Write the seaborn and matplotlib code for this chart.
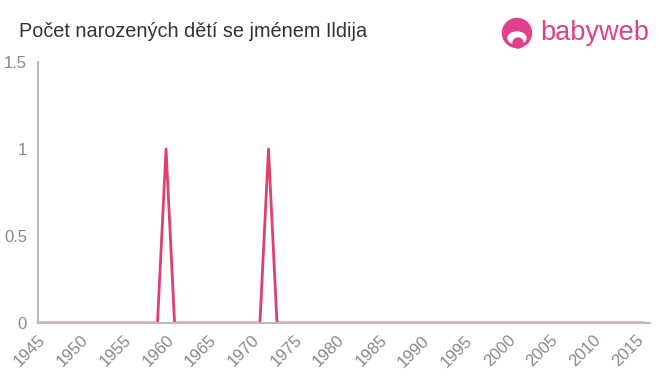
import matplotlib
matplotlib.use("Agg")
import matplotlib.pyplot as plt
import seaborn as sns
import pandas as pd
from matplotlib.patches import Circle, Ellipse

years = list(range(1945, 2017))
peak_years = [1960, 1972]
counts = [1 if y in peak_years else 0 for y in years]
xticks = list(range(1945, 2016, 5))
yticks = [0, 0.5, 1, 1.5]
ytick_labels = ["0", "0.5", "1", "1.5"]

df = pd.DataFrame({"year": years, "count": counts})

sns.set_style("white")
plt.rcParams['font.family'] = ['Liberation Sans', 'DejaVu Sans']

fig = plt.figure(figsize=(6.6, 3.75), dpi=100)
ax = fig.add_axes([38/660, (375-323)/375, (650-38)/660, (323-62)/375])

sns.lineplot(data=df, x="year", y="count", ax=ax, color="#e0406e", linewidth=2)

ax.set_xlim(1945, 2016.7)
ax.set_ylim(0, 1.5)
ax.set_xticks(xticks)
ax.set_xticklabels([str(x) for x in xticks], rotation=45, ha="right", rotation_mode="anchor")
ax.set_yticks(yticks)
ax.set_yticklabels(ytick_labels)
ax.set_xlabel("")
ax.set_ylabel("")
for s in ["top", "right"]:
    ax.spines[s].set_visible(False)
for s in ["left", "bottom"]:
    ax.spines[s].set_color("#bbbbbb")
    ax.spines[s].set_linewidth(1.5)
ax.tick_params(axis="both", colors="#bbbbbb", labelcolor="#888888", labelsize=12, length=5, width=1.5, direction="out")
ax.tick_params(axis="x", pad=2)
ax.tick_params(axis="y", pad=3)

fig.text(19/660, 1 - 37/375, "Počet narozených dětí se jménem Ildija", fontsize=14.3, color="#333333", va="baseline", ha="left")

# logo
logo_color = "#e0418a"
fig.patches.append(Circle((517, 375 - 33), 14.5, transform=None, color=logo_color))
fig.patches.append(Ellipse((517, 375 - 38), 18, 12, transform=None, color="white"))
fig.patches.append(Circle((518, 375 - 43), 5, transform=None, color=logo_color))
fig.text(540/660, 1 - 40/375, "babyweb", fontsize=19.5, color=logo_color, va="baseline", ha="left")

fig.savefig("out.png", dpi=100)
